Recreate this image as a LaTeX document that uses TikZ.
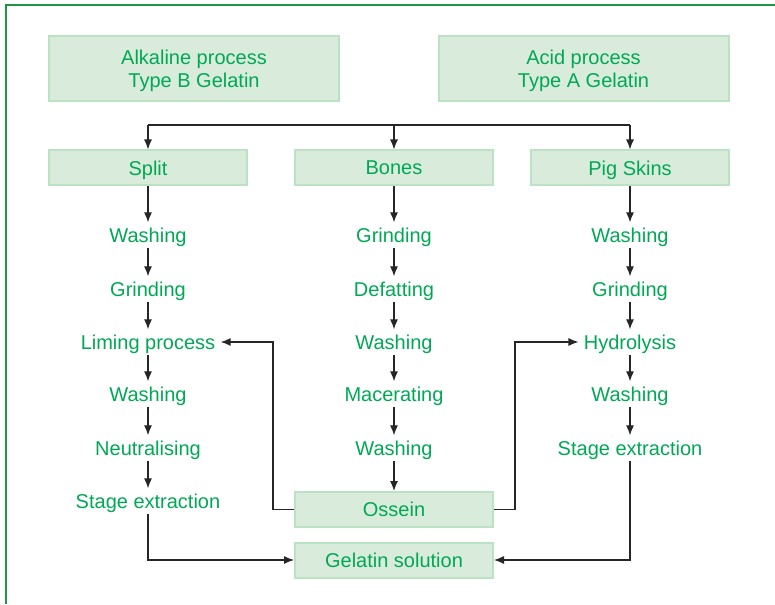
\documentclass[tikz,border=0pt]{standalone}
\usepackage{fontspec}
\setmainfont{Liberation Sans}
\usetikzlibrary{arrows.meta}
\definecolor{txtgreen}{RGB}{0,168,84}
\definecolor{boxfill}{RGB}{217,236,220}
\definecolor{boxline}{RGB}{188,226,196}
\definecolor{framegreen}{RGB}{30,150,70}
\begin{document}
\begin{tikzpicture}[x=.5pt,y=-.5pt,font=\fontsize{10}{11.5}\selectfont,
    box/.style={draw=boxline,line width=1pt,fill=boxfill,text=txtgreen,minimum width=99pt,minimum height=17.5pt,inner sep=0pt,text depth=0pt},
    lbl/.style={text=txtgreen,inner sep=2.5pt,text depth=0pt},
    arr/.style={-{Latex[length=5pt,width=4pt]},line width=.6pt,black!85}]
    \useasboundingbox(0,0)rectangle(775,604);
    \draw[framegreen,line width=1pt](6,604)--(6,5.5)--(775,5.5);
    \node[box,minimum width=145pt,minimum height=32.5pt,align=center](alk)at(194,68.5){Alkaline process\\Type B Gelatin};
    \node[box,minimum width=145pt,minimum height=32.5pt,align=center](acid)at(583.5,68.5){Acid process\\Type A Gelatin};
    \node[box](split)at(148,168){Split};
    \node[box](bones)at(394,168){Bones};
    \node[box](pig)at(630,168){Pig Skins};
    \node[box](oss)at(394,509.5){Ossein};
    \node[box](gel)at(394,560){Gelatin solution};
    \foreach\t/\y[count=\i]in{Washing/235,Grinding/289,Liming process/342,Washing/394,Neutralising/448,Stage extraction/501}
    \node[lbl](l\i)at(148,\y){\t};
    \foreach\t/\y[count=\i]in{Grinding/235,Defatting/289,Washing/342,Macerating/394,Washing/448}
    \node[lbl](m\i)at(394,\y){\t};
    \foreach\t/\y[count=\i]in{Washing/235,Grinding/289,Hydrolysis/342,Washing/394,Stage extraction/448}
    \node[lbl](r\i)at(630,\y){\t};
    \coordinate(tl)at(148,125);
    \coordinate(tr)at(630,125);
    \coordinate(kl)at(273,342);
    \coordinate(kr)at(515,342);
    \draw[line width=.6pt,black!85](tl)--(tr);
    \draw[arr](tl)--(split);
    \draw[arr](bones|-tl)--(bones);
    \draw[arr](tr)--(pig);
    \draw[arr](split)--(l1);
    \draw[arr](bones)--(m1);
    \draw[arr](pig)--(r1);
    \foreach\i/\j in{1/2,2/3,3/4,4/5,5/6}\draw[arr](l\i)--(l\j);
    \foreach\i/\j in{1/2,2/3,3/4,4/5}\draw[arr](m\i)--(m\j);
    \draw[arr](m5)--(oss);
    \foreach\i/\j in{1/2,2/3,3/4,4/5}\draw[arr](r\i)--(r\j);
    \draw[arr](oss.west)-|(kl)--(l3);
    \draw[arr](oss.east)-|(kr)--(r3);
    \draw[arr](l6)|-(gel);
    \draw[arr](r5)|-(gel);
  \end{tikzpicture}
\end{document}
